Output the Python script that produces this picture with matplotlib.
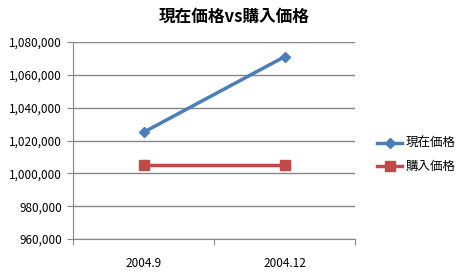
import matplotlib
matplotlib.use("Agg")
import matplotlib.pyplot as plt
from matplotlib.ticker import FuncFormatter, FixedLocator

plt.rcParams['font.family'] = ['Noto Sans CJK JP', 'DejaVu Sans']

categories = ["2004.9", "2004.12"]
current_price = [1025000, 1071000]
purchase_price = [1005000, 1005000]
series_names = ["現在価格", "購入価格"]
title = "現在価格vs購入価格"

fig = plt.figure(figsize=(4.68, 2.8), dpi=100)
ax = fig.add_axes([73/468, 1 - 239/280, (355-73)/468, (239-42)/280])

x = [0.5, 1.5]
ax.plot(x, current_price, color="#4a7ebb", lw=2.5, marker="D", ms=5.5,
        markeredgecolor="#4a7ebb", label=series_names[0], zorder=3)
ax.plot(x, purchase_price, color="#be4b48", lw=2.5, marker="s", ms=7,
        markeredgecolor="#be4b48", label=series_names[1], zorder=3)

ax.set_xlim(0, 2)
ax.set_ylim(960000, 1080000)
ax.set_yticks(range(960000, 1080001, 20000))
ax.yaxis.set_major_formatter(FuncFormatter(lambda v, p: f"{int(v):,}"))
ax.grid(axis="y", color="#868686", lw=1)
ax.set_axisbelow(True)

ax.set_xticks([0, 1, 2])
ax.set_xticklabels([])
ax.xaxis.set_minor_locator(FixedLocator(x))
ax.set_xticklabels(categories, minor=True)
ax.tick_params(axis="x", which="minor", length=0, pad=13, labelsize=8.5)
ax.tick_params(axis="x", which="major", length=4, color="#868686", direction="out")
ax.tick_params(axis="y", length=4, color="#868686", labelsize=8.5, pad=4)

for s in ["top", "right"]:
    ax.spines[s].set_visible(False)
for s in ["left", "bottom"]:
    ax.spines[s].set_color("#868686")

fig.text(234/468, 1 - 17/280, title, ha="center", va="center",
         fontsize=12, fontweight="bold")

fig.legend(loc="center left", bbox_to_anchor=(366/468, 1 - 155/280),
           frameon=False, fontsize=9, handlelength=2.0, handletextpad=0.3,
           labelspacing=0.8)

fig.savefig("out.png", dpi=100)
